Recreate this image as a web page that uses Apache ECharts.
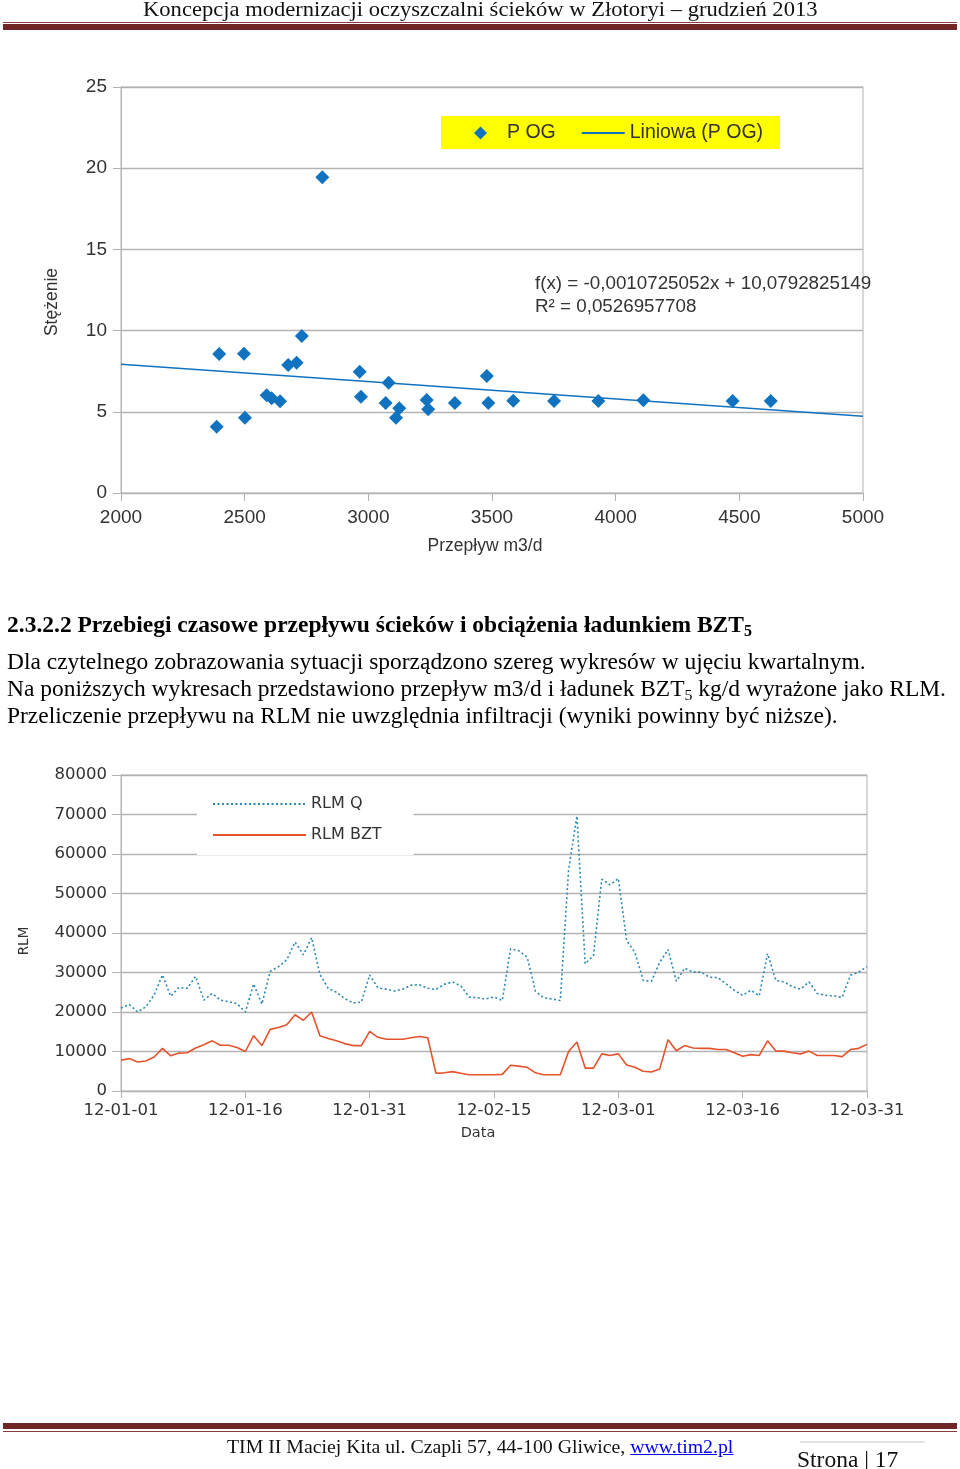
<!DOCTYPE html>
<html>
<head>
<meta charset="utf-8">
<script src="https://cdn.jsdelivr.net/npm/echarts@6/dist/echarts.min.js"></script>
<style>
html,body{margin:0;padding:0;background:#fff;}
#page{position:relative;width:960px;height:1469px;overflow:hidden;background:#fff;}
#chart{position:absolute;left:0;top:0;width:960px;height:1469px;}
.t{position:absolute;white-space:nowrap;font-family:"Liberation Serif","Times New Roman",serif;color:#000;z-index:2;transform-origin:0 50%;}
.bar{position:absolute;left:3px;width:954px;z-index:2;}
sub{font-size:0.68em;vertical-align:-0.25em;line-height:0;}
</style>
</head>
<body>
<div id="page">
  <div id="chart"></div>
  <div class="t" style="left:143px;top:-4px;font-size:21px;line-height:26px;color:#111;transform:scaleX(1.075);">Koncepcja modernizacji oczyszczalni ścieków w Złotoryi – grudzień 2013</div>
  <div class="bar" style="top:22px;height:1px;background:#8a3c3c;"></div>
  <div class="bar" style="top:24px;height:6px;background:#6f2626;"></div>

  <div class="t" style="left:7px;top:609px;font-size:23.5px;line-height:30px;font-weight:bold;">2.3.2.2 Przebiegi czasowe przepływu ścieków i obciążenia ładunkiem BZT<sub>5</sub></div>
  <div class="t" style="left:7px;top:648px;font-size:23px;line-height:28px;transform:scaleX(1.02);">Dla czytelnego zobrazowania sytuacji sporządzono szereg wykresów w ujęciu kwartalnym.</div>
  <div class="t" style="left:7px;top:675px;font-size:23px;line-height:28px;transform:scaleX(1.02);">Na poniższych wykresach przedstawiono przepływ m3/d i ładunek BZT<sub>5</sub> kg/d wyrażone jako RLM.</div>
  <div class="t" style="left:7px;top:702px;font-size:23px;line-height:28px;transform:scaleX(1.02);">Przeliczenie przepływu na RLM nie uwzględnia infiltracji (wyniki powinny być niższe).</div>

  <div class="bar" style="top:1423px;height:6px;background:#6f2626;"></div>
  <div class="bar" style="top:1431px;height:1px;background:#8a3c3c;"></div>
  <div style="position:absolute;left:800px;top:1441px;width:125px;height:2px;background:#e4e4e4;z-index:2;"></div>
  <div class="t" style="left:227px;top:1433px;font-size:19.8px;line-height:26px;color:#111;">TIM II Maciej Kita ul. Czapli 57, 44-100 Gliwice, <span style="color:#0000ee;text-decoration:underline;">www.tim2.pl</span></div>
  <div class="t" style="left:797px;top:1444px;font-size:23.5px;line-height:30px;color:#111;">Strona | 17</div>
</div>
<script>
// ---- Chart 1: scatter P OG ----
var flowX = [2387, 2397, 2497, 2501, 2589, 2609, 2643, 2676, 2710, 2731, 2814, 2965, 2970, 3082, 3070, 3112, 3125, 3236, 3242, 3350, 3479, 3485, 3586, 3751, 3930, 4112, 4473, 4627];
var concY = [4.08, 8.56, 8.58, 4.64, 6.02, 5.83, 5.65, 7.88, 8.02, 9.67, 19.44, 7.47, 5.93, 6.79, 5.54, 4.64, 5.22, 5.73, 5.15, 5.54, 7.20, 5.54, 5.68, 5.67, 5.67, 5.71, 5.67, 5.67];
var trendX = [2000, 5000];
var trendY = [7.93, 4.72];
var scatterXTicks = [2000, 5000, 500];
var scatterYTicks = [0, 25, 5];

// ---- Chart 2: RLM time series ----
var dates = [
 '12-01-01','12-01-02','12-01-03','12-01-04','12-01-05','12-01-06','12-01-07','12-01-08','12-01-09','12-01-10',
 '12-01-11','12-01-12','12-01-13','12-01-14','12-01-15','12-01-16','12-01-17','12-01-18','12-01-19','12-01-20',
 '12-01-21','12-01-22','12-01-23','12-01-24','12-01-25','12-01-26','12-01-27','12-01-28','12-01-29','12-01-30',
 '12-01-31','12-02-01','12-02-02','12-02-03','12-02-04','12-02-05','12-02-06','12-02-07','12-02-08','12-02-09',
 '12-02-10','12-02-11','12-02-12','12-02-13','12-02-14','12-02-15','12-02-16','12-02-17','12-02-18','12-02-19',
 '12-02-20','12-02-21','12-02-22','12-02-23','12-02-24','12-02-25','12-02-26','12-02-27','12-02-28','12-02-29',
 '12-03-01','12-03-02','12-03-03','12-03-04','12-03-05','12-03-06','12-03-07','12-03-08','12-03-09','12-03-10',
 '12-03-11','12-03-12','12-03-13','12-03-14','12-03-15','12-03-16','12-03-17','12-03-18','12-03-19','12-03-20',
 '12-03-21','12-03-22','12-03-23','12-03-24','12-03-25','12-03-26','12-03-27','12-03-28','12-03-29','12-03-30',
 '12-03-31'];
var rlmQ = [
 21000, 21900, 20000, 21300, 24300, 29400, 24000, 26200, 26000, 29000,
 23000, 24700, 23000, 22600, 22100, 20000, 27100, 22000, 30300, 31500,
 33200, 37700, 34500, 38800, 29500, 26000, 25000, 23400, 22300, 22500,
 29400, 26100, 25800, 25300, 25800, 26800, 26900, 26000, 25700, 27000,
 27600, 26600, 23800, 23600, 23300, 23800, 22900, 36000, 35500, 33900,
 25300, 23600, 23300, 22900, 56000, 69600, 32200, 34300, 53600, 52200,
 53800, 38100, 35100, 28000, 27800, 32600, 35800, 27800, 31100, 30100,
 30100, 28800, 28700, 27100, 25500, 24200, 25500, 24100, 34800, 28000,
 27600, 26400, 25800, 27600, 24700, 24200, 24100, 23700, 29300, 30100,
 31500];
var rlmBZT = [
 7800, 8200, 7350, 7600, 8600, 10800, 8900, 9600, 9700, 10900,
 11700, 12700, 11600, 11600, 11000, 10000, 14000, 11500, 15600, 16100,
 16800, 19300, 17900, 20000, 14000, 13300, 12700, 12000, 11500, 11500,
 15100, 13600, 13100, 13100, 13100, 13500, 13800, 13500, 4500, 4600,
 4900, 4500, 4100, 4100, 4100, 4100, 4200, 6500, 6300, 6000,
 4600, 4100, 4100, 4100, 10000, 12400, 5800, 5800, 9400, 9000,
 9400, 6600, 6000, 5000, 4800, 5600, 13000, 10200, 11500, 10900,
 10800, 10800, 10500, 10500, 9700, 8800, 9200, 9000, 12700, 10100,
 10100, 9700, 9400, 10100, 9000, 9000, 9000, 8700, 10500, 10800,
 11800];
var rlmYTicks = [0, 80000, 10000];

var scatterData = flowX.map(function (x, i) { return [x, concY[i]]; });
var trendData = trendX.map(function (x, i) { return [x, trendY[i]]; });

var GRID = '#b3b3b3';
var BLUE = '#1173c0';
var QCOL = '#2a8ab5';
var BZTCOL = '#e4532c';
var SANS1 = 'Liberation Sans, Arial, sans-serif';
var SANS2 = 'DejaVu Sans, Verdana, sans-serif';
var plain = function (v) { return String(v); };
// legend diamond icon: bounding box spans the whole 43x13 legend icon cell, diamond centred in it
var DIAMOND = 'path://M0,0M43,13M21.5,0L28,6.5L21.5,13L15,6.5Z';

function axisNameText(txt, x, y, font, rot) {
  return {
    type: 'text', x: x, y: y, rotation: rot || 0, z: 10,
    style: {text: txt, font: font, fill: '#333', align: 'center', verticalAlign: 'middle',
            textAlign: 'center', textVerticalAlign: 'middle'}
  };
}

var chart = echarts.init(document.getElementById('chart'), null, {renderer: 'canvas'});
chart.setOption({
  animation: false,
  grid: [
    {left: 121, top: 87, width: 742, height: 406, show: true, borderColor: GRID, borderWidth: 1, backgroundColor: 'transparent'},
    {left: 121, top: 775, width: 746, height: 316, show: true, borderColor: GRID, borderWidth: 1, backgroundColor: 'transparent'}
  ],
  xAxis: [
    {
      gridIndex: 0, type: 'value', min: scatterXTicks[0], max: scatterXTicks[1], interval: scatterXTicks[2],
      axisLine: {show: true, lineStyle: {color: GRID, width: 1}},
      axisTick: {show: true, length: 8, lineStyle: {color: GRID}},
      splitLine: {show: false},
      axisLabel: {fontFamily: SANS1, fontSize: 19, color: '#333', margin: 15, formatter: plain}
    },
    {
      gridIndex: 1, type: 'category', data: dates, boundaryGap: false,
      axisLine: {show: true, lineStyle: {color: GRID, width: 1}},
      axisTick: {show: true, interval: 14, length: 7, lineStyle: {color: GRID}},
      splitLine: {show: false},
      axisLabel: {interval: 14, fontFamily: SANS2, fontSize: 16.5, color: '#333', margin: 11}
    }
  ],
  yAxis: [
    {
      gridIndex: 0, type: 'value', min: scatterYTicks[0], max: scatterYTicks[1], interval: scatterYTicks[2],
      axisLine: {show: true, lineStyle: {color: GRID, width: 1}},
      axisTick: {show: true, length: 8, lineStyle: {color: GRID}},
      splitLine: {show: true, lineStyle: {color: GRID, width: 1.3}},
      axisLabel: {fontFamily: SANS1, fontSize: 19, color: '#333', margin: 14, formatter: plain}
    },
    {
      gridIndex: 1, type: 'value', min: rlmYTicks[0], max: rlmYTicks[1], interval: rlmYTicks[2],
      axisLine: {show: true, lineStyle: {color: GRID, width: 1}},
      axisTick: {show: true, length: 9, lineStyle: {color: GRID}},
      splitLine: {show: true, lineStyle: {color: GRID, width: 1.3}},
      axisLabel: {fontFamily: SANS2, fontSize: 16.5, color: '#333', margin: 14, formatter: plain}
    }
  ],
  legend: [
    {
      left: 441, top: 116, orient: 'horizontal', symbolKeepAspect: false,
      backgroundColor: '#ffff00', padding: [7, 17, 6, 18],
      itemGap: 25, itemWidth: 43, itemHeight: 13,
      textStyle: {fontFamily: SANS1, fontSize: 19.5, color: '#333'},
      data: [
        {name: 'P OG', icon: DIAMOND, itemStyle: {color: BLUE, opacity: 1, borderWidth: 0}},
        {name: 'Liniowa (P OG)', itemStyle: {opacity: 0}}
      ]
    },
    {
      left: 197, top: 787, orient: 'vertical', symbolKeepAspect: true,
      backgroundColor: '#ffffff', padding: [9, 32, 12, 15],
      itemGap: 15, itemWidth: 93, itemHeight: 18,
      textStyle: {fontFamily: SANS2, fontSize: 16, color: '#333'},
      data: [
        {name: 'RLM Q', itemStyle: {opacity: 0}},
        {name: 'RLM BZT', itemStyle: {opacity: 0}}
      ]
    }
  ],
  graphic: [
    {type: 'text', left: 535, top: 274, z: 10,
     style: {text: 'f(x) = -0,0010725052x + 10,0792825149', font: '18.8px Liberation Sans', fill: '#333'}},
    {type: 'text', left: 535, top: 297, z: 10,
     style: {text: 'R² = 0,0526957708', font: '18.8px Liberation Sans', fill: '#333'}},
    axisNameText('Stężenie', 52, 302, '17.5px Liberation Sans', Math.PI / 2),
    axisNameText('Przepływ m3/d', 485, 546, '17.5px Liberation Sans', 0),
    axisNameText('RLM', 24, 941, '13.5px DejaVu Sans', Math.PI / 2),
    axisNameText('Data', 478, 1133, '14.5px DejaVu Sans', 0)
  ],
  series: [
    {
      name: 'Liniowa (P OG)', type: 'line', xAxisIndex: 0, yAxisIndex: 0,
      data: trendData, showSymbol: false, symbol: 'none', z: 2,
      lineStyle: {color: BLUE, width: 1.5}, itemStyle: {color: BLUE}
    },
    {
      name: 'P OG', type: 'scatter', xAxisIndex: 0, yAxisIndex: 0,
      data: scatterData, symbol: 'diamond', symbolSize: 14, z: 3,
      itemStyle: {color: BLUE, opacity: 1}
    },
    {
      name: 'RLM Q', type: 'line', xAxisIndex: 1, yAxisIndex: 1,
      data: rlmQ, showSymbol: false, symbol: 'none',
      lineStyle: {color: QCOL, width: 1.6, type: [2, 2.5]}, itemStyle: {color: QCOL}
    },
    {
      name: 'RLM BZT', type: 'line', xAxisIndex: 1, yAxisIndex: 1,
      data: rlmBZT, showSymbol: false, symbol: 'none',
      lineStyle: {color: BZTCOL, width: 1.6}, itemStyle: {color: BZTCOL}
    }
  ]
});
</script>
</body>
</html>
